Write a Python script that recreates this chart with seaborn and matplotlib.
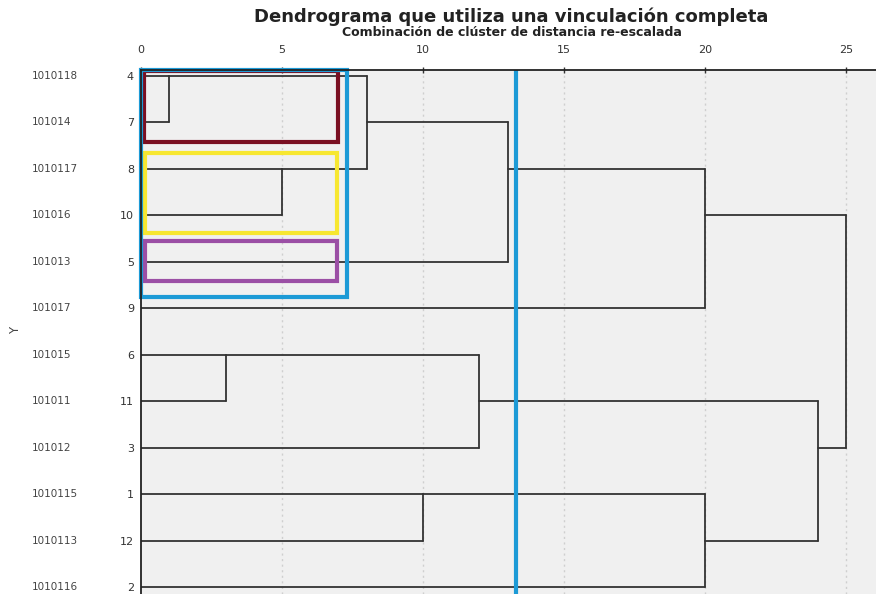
import seaborn as sns
import pandas as pd
import matplotlib.pyplot as plt
from matplotlib.patches import Rectangle
from matplotlib.transforms import blended_transform_factory

# leaves in dendrogram order (top to bottom)
case_ids = ['1010118', '101014', '1010117', '101016', '101013', '101017',
            '101015', '101011', '101012', '1010115', '1010113', '1010116']
case_nums = [4, 7, 8, 10, 5, 9, 6, 11, 3, 1, 12, 2]

# agglomeration schedule (cluster named by its first case), rescaled distance
merge_a = [4, 6, 8, 4, 1, 6, 4, 4, 1, 6, 4]
merge_b = [7, 11, 10, 8, 12, 3, 5, 9, 2, 1, 6]
merge_dist = [1, 3, 5, 8, 10, 12, 13, 20, 20, 24, 25]

# highlighted groups (cases) and cut line
group_cases = [[4, 7], [8, 10], [5], [4, 7, 8, 10, 5]]
group_colors = ['#7a0f22', '#f7e731', '#9b4fa5', '#1c9ad6']
cut_level = 13.3

sns.set_theme(style='white')
plt.rcParams['font.family'] = ['DejaVu Sans']

# build segments of the dendrogram
row = {c: i for i, c in enumerate(case_nums)}
pos = {c: float(i) for i, c in enumerate(case_nums)}   # y of cluster line
start = {c: 0.0 for c in case_nums}                     # x where cluster line starts
segs = []
k = 0
for a, b, d in zip(merge_a, merge_b, merge_dist):
    for c in (a, b):
        segs += [(k, start[c], pos[c]), (k, d, pos[c])]
        k += 1
    segs += [(k, d, pos[a]), (k, d, pos[b])]
    k += 1
    pos[a] = float(int((pos[a] + pos[b]) / 2))
    start[a] = d
df = pd.DataFrame(segs, columns=['seg', 'x', 'y'])

fig = plt.figure(figsize=(8.76, 5.94), dpi=100)
ax = fig.add_axes([141 / 876, 0, 1 - 141 / 876, 524 / 594])
ax.set_facecolor('#f0f0f0')

sns.lineplot(data=df, x='x', y='y', units='seg', estimator=None, sort=False,
             color='#333333', lw=1.3, ax=ax)

ax.set_xlim(0, 26.06)
ax.set_ylim(11.15, -0.13)
ax.xaxis.tick_top()
ax.set_xticks([0, 5, 10, 15, 20, 25])
ax.set_yticks(range(len(case_nums)))
ax.set_yticklabels(case_nums)
ax.set_xlabel('')
ax.set_ylabel('')
ax.tick_params(axis='x', direction='inout', length=5, width=1, pad=8,
               labelsize=8, colors='#333333')
ax.tick_params(axis='y', direction='out', length=3, width=1, pad=2,
               labelsize=8, colors='#333333')
for x in [5, 10, 15, 20, 25]:
    ax.axvline(x, color='#cfcfcf', lw=1, ls=(0, (1.5, 2.5)), zorder=0)
for s in ['right', 'bottom']:
    ax.spines[s].set_visible(False)
for s in ['left', 'top']:
    ax.spines[s].set_color('#222222')
    ax.spines[s].set_linewidth(1.3)
    ax.spines[s].set_zorder(10)

trans = blended_transform_factory(ax.transAxes, ax.transData)
for i, lab in enumerate(case_ids):
    ax.text(-0.148, i, lab, transform=trans, ha='left', va='center',
            fontsize=7.5, color='#444444')

# highlight boxes
pads = [(0.1, 0.42), (0.35, 0.37), (0.45, 0.42), (0.13, 0.75)]
rights = [7.0, 6.95, 6.95, 7.3]
lefts = [0.12, 0.15, 0.15, 0.0]
for cases, col, (pt, pb), x0, x1 in zip(group_cases, group_colors, pads, lefts, rights):
    rows = [row[c] for c in cases]
    y0, y1 = min(rows) - pt, max(rows) + pb
    ax.add_patch(Rectangle((x0, y0), x1 - x0, y1 - y0, fill=False,
                           edgecolor=col, lw=3, zorder=5, clip_on=False))
ax.axvline(cut_level, color='#1c9ad6', lw=3, zorder=6)

fig.text((250 + 773) / 2 / 876, 1 - 17 / 594,
         'Dendrograma que utiliza una vinculación completa',
         ha='center', va='center', fontsize=13, fontweight='bold', color='#222222')
fig.text((330 + 693) / 2 / 876, 1 - 32 / 594,
         'Combinación de clúster de distancia re-escalada',
         ha='center', va='center', fontsize=9, fontweight='bold', color='#222222')
fig.text(16 / 876, 1 - 330 / 594, 'Y', rotation=90, ha='center', va='center',
         fontsize=8.5, color='#444444')

plt.savefig('out.png', dpi=100)
